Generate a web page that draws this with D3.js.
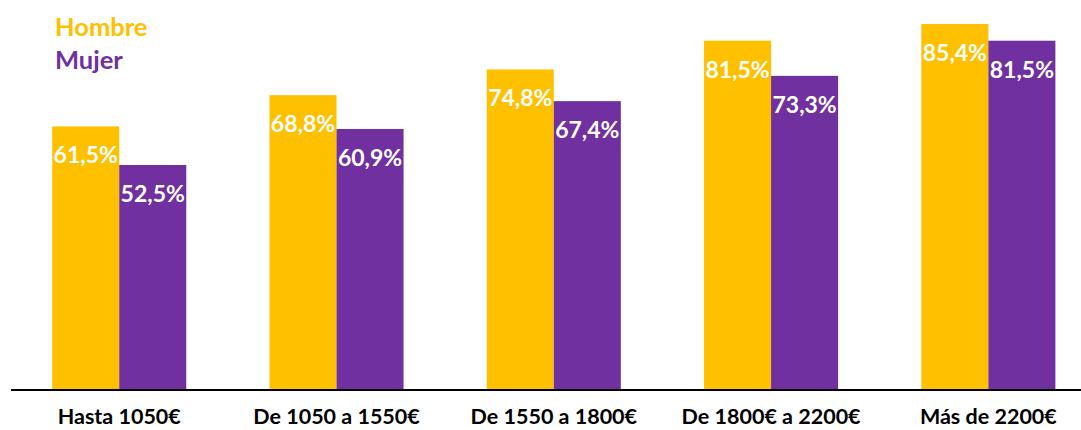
<!DOCTYPE html>
<html>
<head>
<meta charset="utf-8">
<script src="https://cdn.jsdelivr.net/npm/d3@7"></script>
<style>
  html, body { margin: 0; padding: 0; background: #fff; }
  svg { display: block; font-family: Lato, "Open Sans", sans-serif; }
</style>
</head>
<body>
<svg id="chart" width="1081" height="430"></svg>
<script>
// Income brackets and the share for each sex
const categories = ["Hasta 1050€", "De 1050 a 1550€", "De 1550 a 1800€", "De 1800€ a 2200€", "Más de 2200€"];
const seriesNames = ["Hombre", "Mujer"];
const hombre = [61.5, 68.8, 74.8, 81.5, 85.4];
const mujer = [52.5, 60.9, 67.4, 73.3, 81.5];
const colors = ["#FFC000", "#7030A0"];

const rows = categories.map((c, i) => ({ cat: c, values: [hombre[i], mujer[i]] }));

const svg = d3.select("#chart");
const baseY = 390;

const x = d3.scaleBand()
  .domain(categories)
  .range([10.6, 1097])
  .paddingInner(0.383)
  .paddingOuter(0.1915);

const xSub = d3.scaleBand()
  .domain(seriesNames)
  .range([0, x.bandwidth()]);

const y = d3.scaleLinear().domain([0, 91]).range([baseY, 0]);

const fmt = v => v.toFixed(1).replace(".", ",") + "%";

const groups = svg.append("g").selectAll("g")
  .data(rows)
  .join("g")
  .attr("transform", d => `translate(${x(d.cat)},0)`);

const cells = groups.selectAll("g.cell")
  .data(d => d.values.map((v, j) => ({ name: seriesNames[j], v, j })))
  .join("g")
  .attr("class", "cell");

cells.append("rect")
  .attr("x", d => xSub(d.name))
  .attr("width", xSub.bandwidth())
  .attr("y", d => y(d.v))
  .attr("height", d => baseY - y(d.v))
  .attr("fill", d => colors[d.j]);

// Value labels sit inside the top of each bar
cells.append("text")
  .attr("x", d => xSub(d.name) + xSub.bandwidth() / 2)
  .attr("y", d => y(d.v) + 37)
  .attr("text-anchor", "middle")
  .attr("fill", "#fff")
  .attr("font-weight", "bold")
  .attr("font-size", 23)
  .text(d => fmt(d.v));

// Baseline axis with category labels
const axis = svg.append("g").attr("transform", `translate(0,${baseY})`)
  .call(d3.axisBottom(x).tickSize(0).tickPadding(0));
axis.select(".domain").remove();
axis.selectAll(".tick text")
  .attr("y", 34)
  .attr("dy", 0)
  .attr("fill", "#000")
  .attr("font-family", "Lato, 'Open Sans', sans-serif")
  .attr("font-weight", "bold")
  .attr("font-size", 21.5);

svg.append("line")
  .attr("x1", 11).attr("x2", 1081)
  .attr("y1", baseY).attr("y2", baseY)
  .attr("stroke", "#000")
  .attr("stroke-width", 2);

// Legend
const legend = svg.append("g");
seriesNames.forEach((n, i) => {
  legend.append("text")
    .attr("x", 55)
    .attr("y", 36 + i * 33)
    .attr("fill", colors[i])
    .attr("font-weight", "bold")
    .attr("font-size", 25.5)
    .text(n);
});
</script>
</body>
</html>
